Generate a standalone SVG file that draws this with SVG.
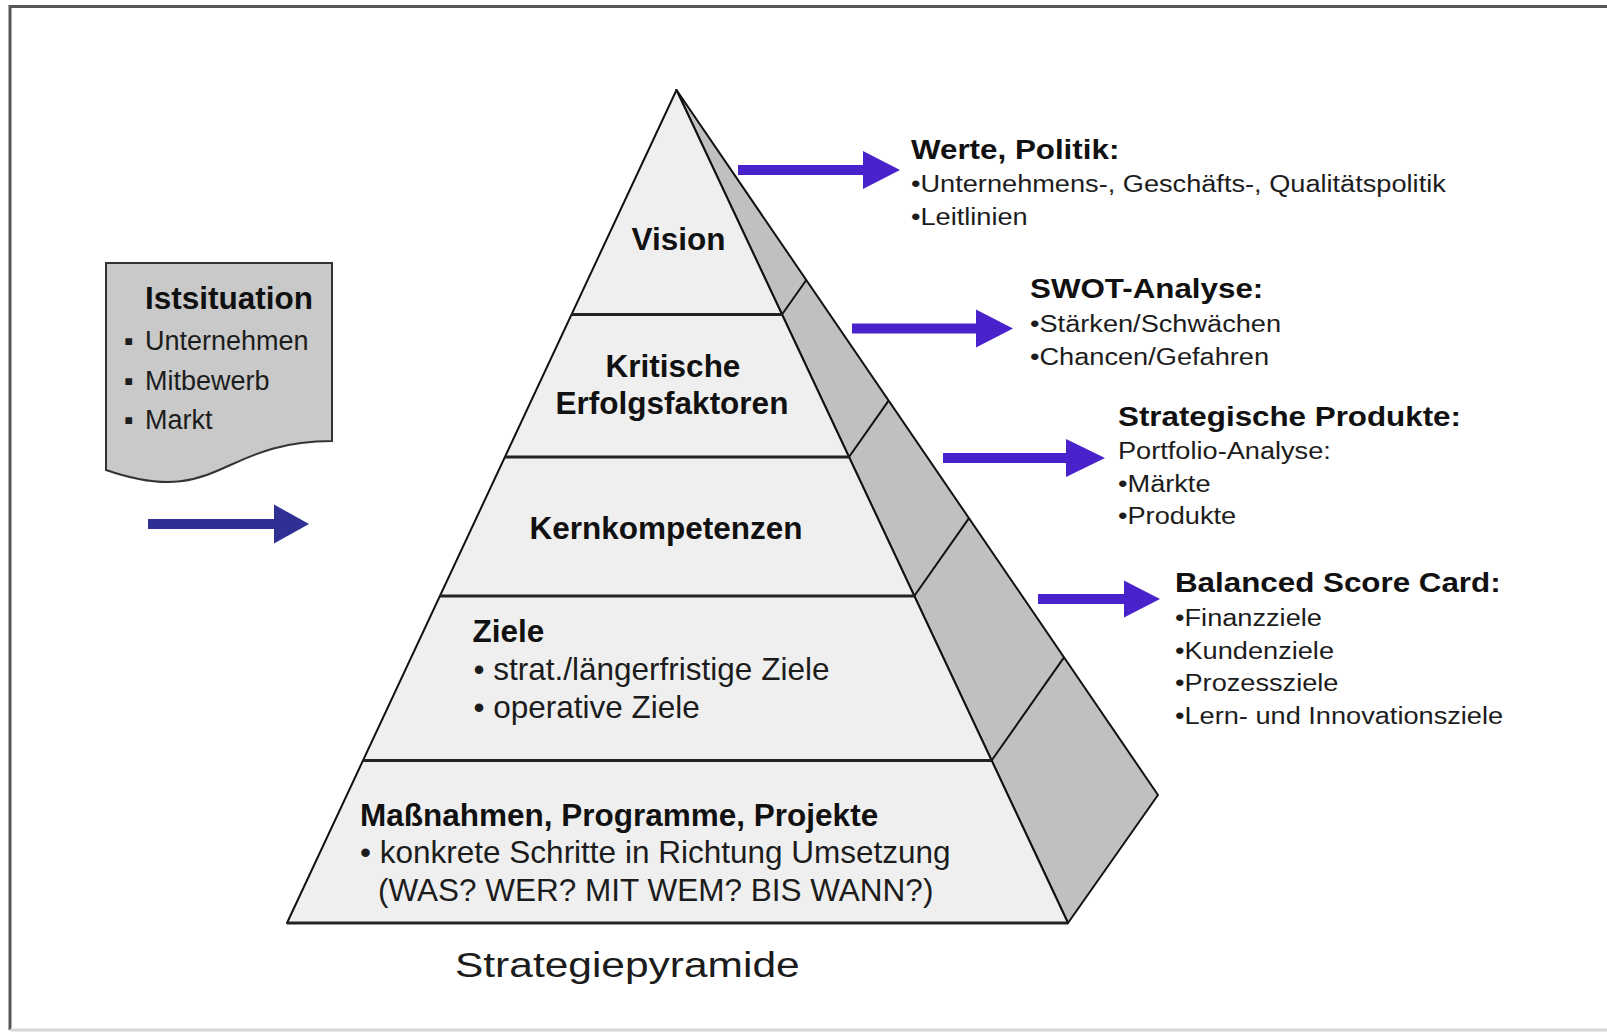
<svg xmlns="http://www.w3.org/2000/svg" width="1607" height="1033" viewBox="0 0 1607 1033">
  <style>
    .bold { font-family: "Liberation Sans", Arial, sans-serif; font-weight: bold; fill: #111; }
    .reg { font-family: "Liberation Sans", Arial, sans-serif; fill: #1c1c1c; }
    .pb { font-size: 31.5px; }
    .hb { font-size: 28.5px; }
    .hr { font-size: 24.7px; }
    .front { fill: #efefef; stroke: #111; stroke-width: 2; stroke-linejoin: round; }
    .side { fill: #c0c0c0; stroke: #111; stroke-width: 2; stroke-linejoin: round; }
    .band { stroke: #222; stroke-width: 3; fill: none; }
    .div { stroke: #111; stroke-width: 2; fill: none; }
    .arrow-r { fill: #4a22cc; }
    .arrow-l { fill: #2f2f94; }
  </style>

  <!-- background and frame -->
  <rect x="0" y="0" width="1607" height="1033" fill="#ffffff"/>
  <g id="frame">
    <path d="M10,1030 V6.5 H1607" fill="none" stroke="#555" stroke-width="3"/>
    <line x1="10" y1="1030" x2="1607" y2="1030" stroke="#d6d6d6" stroke-width="3"/>
  </g>

  <!-- pyramid -->
  <g id="pyramid">
    <polygon class="side" points="676.5,90 1158,795 1068,923"/>
    <polygon class="front" points="676.5,90 1068,923 287,923"/>
    <!-- side face segment dividers -->
    <line class="div" x1="782" y1="314.5" x2="806.3" y2="280"/>
    <line class="div" x1="849" y1="457" x2="888.6" y2="400.6"/>
    <line class="div" x1="914.3" y1="596" x2="969" y2="518.2"/>
    <line class="div" x1="991.6" y1="760.5" x2="1064" y2="657.4"/>
    <!-- layer separators -->
    <line class="band" x1="571.5" y1="314.5" x2="782" y2="314.5"/>
    <line class="band" x1="504.9" y1="457" x2="849" y2="457"/>
    <line class="band" x1="439.9" y1="596" x2="914.3" y2="596"/>
    <line class="band" x1="363" y1="760.5" x2="991.6" y2="760.5"/>
    <line class="band" x1="287" y1="923" x2="1068" y2="923"/>

    <g id="layer-vision">
      <text class="bold pb" x="678.5" y="250" text-anchor="middle">Vision</text>
    </g>
    <g id="layer-erfolgsfaktoren">
      <text class="bold pb" x="673" y="376.5" text-anchor="middle">Kritische</text>
      <text class="bold pb" x="672" y="414" text-anchor="middle">Erfolgsfaktoren</text>
    </g>
    <g id="layer-kernkompetenzen">
      <text class="bold pb" x="666" y="538.5" text-anchor="middle">Kernkompetenzen</text>
    </g>
    <g id="layer-ziele">
      <text class="bold pb" x="472.5" y="642">Ziele</text>
      <text class="reg pb" x="473.5" y="680">• strat./längerfristige Ziele</text>
      <text class="reg pb" x="473.5" y="718">• operative Ziele</text>
    </g>
    <g id="layer-massnahmen">
      <text class="bold pb" x="360" y="826">Maßnahmen, Programme, Projekte</text>
      <text class="reg pb" x="360" y="863">• konkrete Schritte in Richtung Umsetzung</text>
      <text class="reg pb" x="378" y="901">(WAS? WER? MIT WEM? BIS WANN?)</text>
    </g>
  </g>

  <!-- caption -->
  <g id="caption" transform="translate(455 977) scale(1.18 1)">
    <text class="reg" x="0" y="0" font-size="36" fill="#000">Strategiepyramide</text>
  </g>

  <!-- current situation document -->
  <g id="istsituation">
    <path d="M106,263 H332 V441 C219,441 219,509 106,470 Z" fill="#c9c9c9" stroke="#333" stroke-width="2"/>
    <text class="bold" x="145" y="309" font-size="31.5">Istsituation</text>
    <g class="reg" font-size="27">
      <text x="124" y="350">▪</text><text x="145" y="350">Unternehmen</text>
      <text x="124" y="389.5">▪</text><text x="145" y="389.5">Mitbewerb</text>
      <text x="124" y="429">▪</text><text x="145" y="429">Markt</text>
    </g>
  </g>

  <!-- info blocks right of the pyramid -->
  <g id="werte" transform="translate(911 0) scale(1.1 1)">
    <text class="bold hb" x="0" y="159.5">Werte, Politik:</text>
    <text class="reg hr" x="0" y="192">•Unternehmens-, Geschäfts-, Qualitätspolitik</text>
    <text class="reg hr" x="0" y="225">•Leitlinien</text>
  </g>
  <g id="swot" transform="translate(1030 0) scale(1.1 1)">
    <text class="bold hb" x="0" y="298">SWOT-Analyse:</text>
    <text class="reg hr" x="0" y="332">•Stärken/Schwächen</text>
    <text class="reg hr" x="0" y="365">•Chancen/Gefahren</text>
  </g>
  <g id="produkte" transform="translate(1118 0) scale(1.1 1)">
    <text class="bold hb" x="0" y="425.5">Strategische Produkte:</text>
    <text class="reg hr" x="0" y="459.5">Portfolio-Analyse:</text>
    <text class="reg hr" x="0" y="492">•Märkte</text>
    <text class="reg hr" x="0" y="524.5">•Produkte</text>
  </g>
  <g id="bsc" transform="translate(1175 0) scale(1.1 1)">
    <text class="bold hb" x="0" y="592.5">Balanced Score Card:</text>
    <text class="reg hr" x="0" y="626.5">•Finanzziele</text>
    <text class="reg hr" x="0" y="659">•Kundenziele</text>
    <text class="reg hr" x="0" y="691.5">•Prozessziele</text>
    <text class="reg hr" x="0" y="724">•Lern- und Innovationsziele</text>
  </g>

  <!-- block arrows -->
  <g id="connectors">
    <polygon class="arrow-l" points="148,519 274,519 274,504.5 309,524 274,543.5 274,529 148,529"/>
    <polygon class="arrow-r" points="738,165 863,165 863,151 900,170 863,189 863,175 738,175"/>
    <polygon class="arrow-r" points="852,323.5 976,323.5 976,309.5 1013,328.5 976,347.5 976,333.5 852,333.5"/>
    <polygon class="arrow-r" points="943,453 1066,453 1066,439 1105,458 1066,477 1066,463 943,463"/>
    <polygon class="arrow-r" points="1038,594 1124,594 1124,580.5 1160,599 1124,617.5 1124,604 1038,604"/>
  </g>
</svg>
